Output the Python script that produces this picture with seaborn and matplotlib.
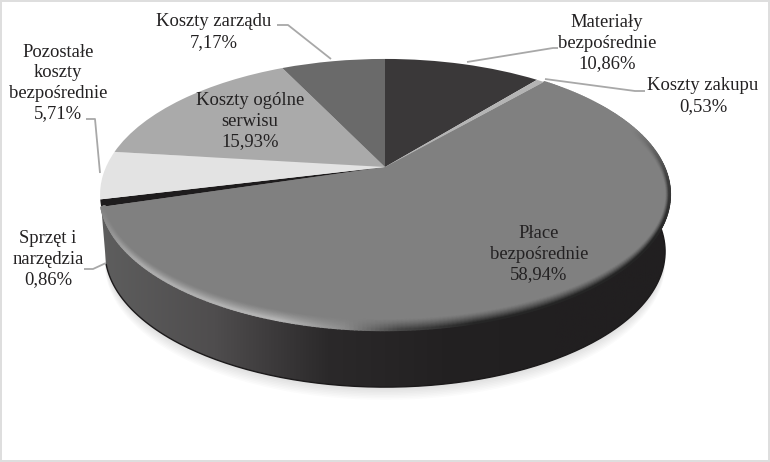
# -*- coding: utf-8 -*-
import numpy as np
import matplotlib
matplotlib.use('Agg')
import matplotlib.pyplot as plt
import seaborn as sns
from matplotlib.collections import LineCollection
from matplotlib.patches import Polygon
from matplotlib.transforms import Transform

# --- DATA ---
categories = ['Materiały\nbezpośrednie', 'Koszty zakupu', 'Płace\nbezpośrednie', 'Sprzęt i\nnarzędzia',
              'Pozostałe\nkoszty\nbezpośrednie', 'Koszty ogólne\nserwisu', 'Koszty zarządu']
shares = [10.86, 0.53, 58.94, 0.86, 5.71, 15.93, 7.17]
colors = ['#3a3839', '#b4b4b4', '#808080', '#1e1c1d', '#e3e3e3', '#aaaaaa', '#6a6a6a']

# label centres and leader lines, in pixels of the picture
label_pos = [(607, 43), (703, 96), (539, 254), (48, 259), (58, 83), (250, 121), (214, 32)]
leaders = [[(467, 62), (553, 48), (558, 48)],
           [(545, 79), (635, 91), (645, 91)],
           [(84, 269), (93, 269), (106, 263)],
           [(86, 119), (95, 119), (100, 173)],
           [(277, 25), (288, 25), (331, 59)]]

# --- CONFIGURATION ---
CX, CY = 385, 167   # apex of the pie
RX, RY = 279, 130
K = 0.203           # perspective strength
DEPTH = 57
BOTTOM_SCALE = 0.983
RIM_CY = 190        # the bevel shrinks towards this height


def project(u, v):
    w = 1 + K * np.asarray(v)
    return CX + RX * np.asarray(u) / w, CY - RY * np.asarray(v) / w


class Perspective(Transform):
    input_dims = 2
    output_dims = 2

    def transform_non_affine(self, values):
        x, y = project(values[:, 0], values[:, 1])
        return np.column_stack([x, y])


def arc(t1, t2, r=1.0, n=300):
    t = np.radians(np.linspace(t1, t2, n))
    return project(r * np.cos(t), r * np.sin(t))


def lower(x, y, shift=DEPTH):
    return CX + (x - CX) * BOTTOM_SCALE, y + shift


sns.set_theme(style='white')
plt.rcParams['font.family'] = ['Liberation Serif', 'DejaVu Serif']

fig = plt.figure(figsize=(7.7, 4.62), dpi=100, facecolor='#dedede')
ax = fig.add_axes([2 / 770, 2 / 462, 766 / 770, 458 / 462])

wedges, _ = ax.pie(shares, colors=colors, startangle=90, counterclock=False)
persp = Perspective() + ax.transData
for w in wedges:
    w.set_transform(persp)
    w.set_zorder(3)
    w.set_linewidth(0)

# wall below the big slice
place = wedges[2]
x_top, y_top = arc(place.theta1, place.theta2)
x_low, y_low = lower(x_top, y_top)
wall = Polygon(np.column_stack([np.r_[x_top, x_low[::-1]], np.r_[y_top, y_low[::-1]]]),
               transform=ax.transData, facecolor='none', edgecolor='none')
ax.add_patch(wall)
wall_cmap = sns.blend_palette(['#5e5e5e', '#4f4d4e', '#2b292a', '#232122', '#211f20', '#211f20'], as_cmap=True)
im = ax.imshow(np.linspace(0, 1, 256)[None, :], extent=(100, 670, 395, 150), cmap=wall_cmap,
               aspect='auto', zorder=2)
im.set_clip_path(wall)
ax.plot(x_low, y_low, color='#1c1a1b', lw=1.0, zorder=2.5)

# soft shadow below the disc
x_all, y_all = arc(0, 360)
x_sh, y_sh = lower(x_all, y_all)
for step in range(1, 9):
    ax.add_patch(Polygon(np.column_stack([x_sh, y_sh + step * 1.6]), facecolor='#000000',
                         edgecolor='none', alpha=0.015, zorder=1))

# bevel on the rim of the big slice
phi_marks = [41, 72, 96, 120, 165, 178, 187, 198, 230, 253]
rim_marks = [128, 128, 60, 36, 38, 70, 140, 180, 170, 130]
xr, yr = arc(place.theta1 + 0.2, place.theta2 - 0.2)
phi = (90 - np.linspace(place.theta1 + 0.2, place.theta2 - 0.2, xr.size) + 360) % 360
target = np.interp(phi, phi_marks, rim_marks)
for mix in np.linspace(0, 1, 14):
    inset = 1 - mix
    xs = CX + (xr - CX) * (1 - 0.012 * inset)
    ys = RIM_CY + (yr - RIM_CY) * (1 - 0.075 * inset)
    grey = (128 + (target - 128) * mix ** 1.3) / 255
    pts = np.column_stack([xs, ys]).reshape(-1, 1, 2)
    segs = np.concatenate([pts[:-1], pts[1:]], axis=1)
    rim = LineCollection(segs, colors=np.column_stack([grey[:-1]] * 3), linewidths=1.6, zorder=4,
                         capstyle='round')
    ax.add_collection(rim)

# leader lines
for line in leaders:
    ax.plot([p[0] for p in line], [p[1] for p in line], color='#a8a8a8', lw=1.3, zorder=5,
            solid_capstyle='butt')

# labels
for cat, share, (lx, ly) in zip(categories, shares, label_pos):
    ax.text(lx, ly, f'{cat}\n{share:.2f}%'.replace('.', ','), ha='center', va='center',
            fontsize=13.4, color='#232122', linespacing=1.27, zorder=6)

ax.set_aspect('auto')
ax.set_xlim(2, 768)
ax.set_ylim(460, 2)
ax.set_frame_on(True)
ax.set_facecolor('white')
for s in ax.spines.values():
    s.set_visible(False)
ax.set_xticks([])
ax.set_yticks([])

fig.savefig('out.png', dpi=100, facecolor=fig.get_facecolor())
